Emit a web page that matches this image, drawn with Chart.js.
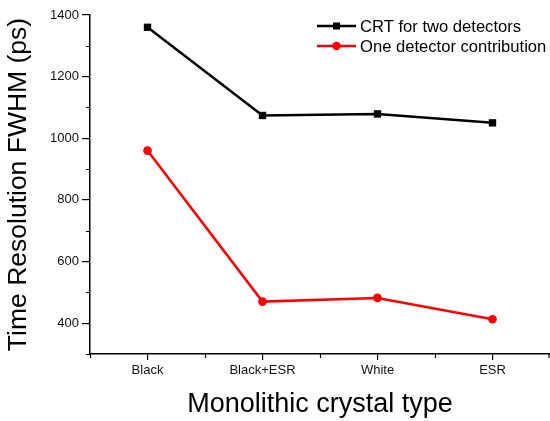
<!DOCTYPE html>
<html>
<head>
<meta charset="utf-8">
<script src="https://cdn.jsdelivr.net/npm/chart.js@4/dist/chart.umd.min.js"></script>
<style>
  html, body { margin: 0; padding: 0; background: #fff; }
  #wrap { width: 550px; height: 421px; position: relative; }
</style>
</head>
<body>
<div id="wrap"><canvas id="c" width="550" height="421"></canvas></div>
<script>
// Crystal surface treatments and measured timing resolution (ps)
const categories = ['Black', 'Black+ESR', 'White', 'ESR'];
const crtValues = [1360, 1074, 1079, 1050];
const oneDetectorValues = [960, 470, 482, 413];
const seriesLabels = ['CRT for two detectors', 'One detector contribution'];
const yMajorTicks = [400, 600, 800, 1000, 1200, 1400];
const yMinorTicks = [300, 500, 700, 900, 1100, 1300];
const xMajorTicks = [1, 2, 3, 4];
const xMinorTicks = [0.5, 1.5, 2.5, 3.5, 4.5];

const FONT = '"Liberation Sans", Arial, sans-serif';

const toPoints = vals => vals.map((v, i) => ({ x: xMajorTicks[i], y: v }));

// Short unlabeled ticks between the labeled ones
const minorTicks = {
  id: 'minorTicks',
  afterDraw(chart) {
    const { ctx, scales: { x, y } } = chart;
    ctx.save();
    ctx.strokeStyle = '#000';
    ctx.lineWidth = 1.2;
    ctx.beginPath();
    yMinorTicks.forEach(v => {
      const py = Math.round(y.getPixelForValue(v)) + 0.5;
      ctx.moveTo(x.left, py);
      ctx.lineTo(x.left - 4, py);
    });
    xMinorTicks.forEach(v => {
      const px = Math.min(Math.round(x.getPixelForValue(v)) + 0.5, chart.width - 1);
      ctx.moveTo(px, y.bottom);
      ctx.lineTo(px, y.bottom + 4);
    });
    ctx.stroke();
    ctx.restore();
  }
};

// Legend drawn as line-marker-line samples followed by the series name
const lineLegend = {
  id: 'lineLegend',
  afterDraw(chart) {
    const { ctx } = chart;
    const x0 = 317, x1 = 356, textX = 360;
    const rows = [26, 46];
    ctx.save();
    ctx.font = '16.6px ' + FONT;
    ctx.textBaseline = 'middle';
    ctx.textAlign = 'left';
    chart.data.datasets.forEach((ds, i) => {
      const yy = rows[i];
      ctx.strokeStyle = ds.borderColor;
      ctx.lineWidth = ds.borderWidth;
      ctx.beginPath();
      ctx.moveTo(x0, yy);
      ctx.lineTo(x1, yy);
      ctx.stroke();
      ctx.fillStyle = ds.pointBackgroundColor;
      const mx = (x0 + x1) / 2;
      if (ds.pointStyle === 'rect') {
        ctx.fillRect(mx - 3.5, yy - 3.5, 7, 7);
      } else {
        ctx.beginPath();
        ctx.arc(mx, yy, 4.2, 0, Math.PI * 2);
        ctx.fill();
      }
      ctx.fillStyle = '#000';
      ctx.fillText(ds.label, textX, yy + 1);
    });
    ctx.restore();
  }
};

new Chart(document.getElementById('c'), {
  type: 'line',
  data: {
    datasets: [
      {
        label: seriesLabels[0],
        data: toPoints(crtValues),
        borderColor: '#000',
        backgroundColor: '#000',
        pointBackgroundColor: '#000',
        pointBorderColor: '#000',
        borderWidth: 2.5,
        pointStyle: 'rect',
        pointRadius: 5.2,
        pointBorderWidth: 0,
        tension: 0
      },
      {
        label: seriesLabels[1],
        data: toPoints(oneDetectorValues),
        borderColor: '#ff0000',
        backgroundColor: '#ff0000',
        pointBackgroundColor: '#ff0000',
        pointBorderColor: '#ff0000',
        borderWidth: 2.5,
        pointStyle: 'circle',
        pointRadius: 4.3,
        pointBorderWidth: 0,
        tension: 0
      }
    ]
  },
  options: {
    responsive: false,
    animation: false,
    layout: { autoPadding: false, padding: { top: 15, right: 0, left: 0, bottom: 0 } },
    plugins: {
      legend: { display: false },
      tooltip: { enabled: false }
    },
    scales: {
      x: {
        type: 'linear',
        min: 0.5,
        max: 4.5,
        afterBuildTicks: s => { s.ticks = xMajorTicks.map(v => ({ value: v })); },
        afterFit: s => { s.height = 421 - 15 - 339; s.paddingRight = 0; s.paddingLeft = 0; },
        border: { display: true, color: '#000', width: 1.5 },
        grid: { drawOnChartArea: false, drawTicks: true, tickLength: 6, color: '#000', lineWidth: 1.2 },
        ticks: {
          color: '#111',
          font: { family: FONT, size: 13 },
          padding: 3,
          maxRotation: 0,
          callback: v => categories[v - 1] || ''
        },
        title: {
          display: true,
          text: 'Monolithic crystal type',
          color: '#000',
          font: { family: FONT, size: 27 },
          padding: { top: 6, bottom: 0 }
        }
      },
      y: {
        type: 'linear',
        min: 300,
        max: 1400,
        afterBuildTicks: s => { s.ticks = yMajorTicks.map(v => ({ value: v })); },
        afterFit: s => { s.width = 90; },
        border: { display: true, color: '#000', width: 1.5 },
        grid: { drawOnChartArea: false, drawTicks: true, tickLength: 8, color: '#000', lineWidth: 1.2 },
        ticks: {
          color: '#111',
          font: { family: FONT, size: 13 },
          padding: 3,
          callback: v => String(v)
        },
        title: {
          display: true,
          text: 'Time Resolution FWHM (ps)',
          color: '#000',
          font: { family: FONT, size: 26.5 },
          padding: { top: 3, bottom: 0 }
        }
      }
    }
  },
  plugins: [minorTicks, lineLegend]
});
</script>
</body>
</html>
